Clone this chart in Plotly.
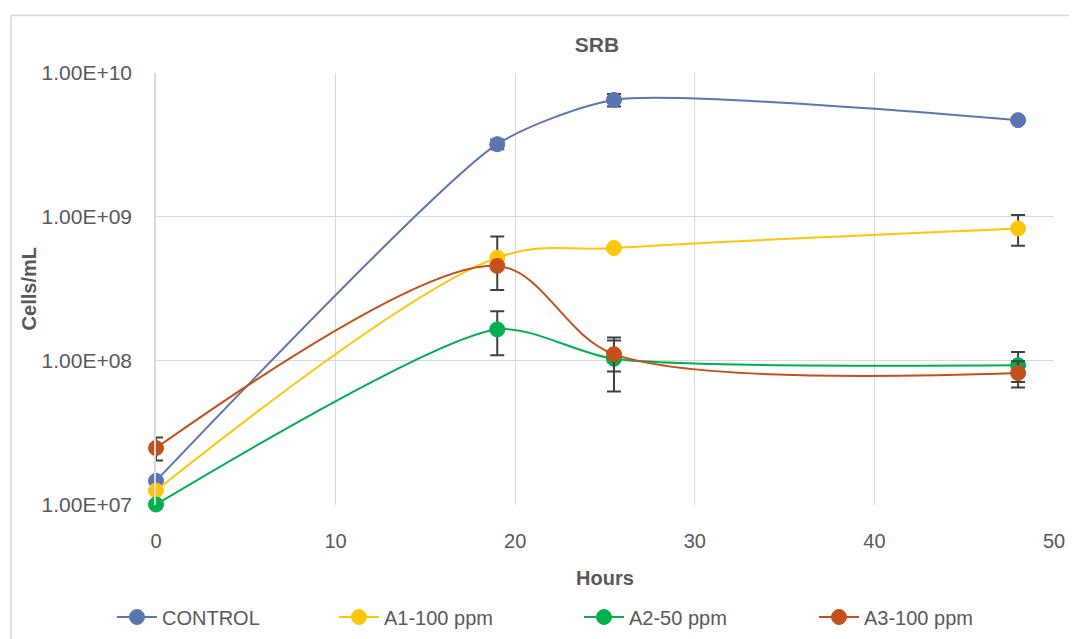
import plotly.graph_objects as go

hours = [0, 19, 25.5, 48]
series_names = ["CONTROL", "A1-100 ppm", "A2-50 ppm", "A3-100 ppm"]
control = [1.46e7, 3.2e9, 6.5e9, 4.7e9]
control_err = [0, 2.5e8, 6.5e8, 0]
a1 = [1.25e7, 5.2e8, 6.07e8, 8.3e8]
a1_err = [0, 2.1e8, 0, 2.0e8]
a2 = [1.0e7, 1.65e8, 1.03e8, 9.3e7]
a2_err = [0, 5.6e7, 4.2e7, 2.2e7]
a3 = [2.47e7, 4.56e8, 1.11e8, 8.2e7]
a3_err = [4.5e6, 0, 2.7e7, 1.7e7]
colors = ["#5B75B2", "#FFC50A", "#00B04F", "#C4501B"]
smooth = [0.6, 1.0, 0.7, 0.9]
y_tickvals = [1e7, 1e8, 1e9, 1e10]
y_ticktext = ["1.00E+07", "1.00E+08", "1.00E+09", "1.00E+10"]
x_tickvals = [0, 10, 20, 30, 40, 50]

FONT = "Liberation Sans"
TXT = "#595959"
W, H = 1069, 631          # page has an 8px body margin
L, R, T, B = 148, 17, 65, 130
PW, PH = W - L - R, H - T - B

legend_marker_px = [124, 346, 591, 826]
legend_names = ["legend", "legend2", "legend3", "legend4"]

fig = go.Figure()
for name, ys, errs, c, s, lg in zip(series_names, [control, a1, a2, a3],
                                    [control_err, a1_err, a2_err, a3_err], colors, smooth,
                                    legend_names):
    fig.add_trace(go.Scatter(
        x=hours, y=ys, name=name, mode="lines+markers", legend=lg, cliponaxis=False,
        line=dict(color=c, width=2, shape="spline", smoothing=s),
        marker=dict(color=c, size=15, line=dict(color=c, width=1)),
        error_y=dict(type="data", array=errs, visible=True, color="#404040",
                     thickness=2, width=7),
    ))

legend_layout = {}
for lg, px in zip(legend_names, legend_marker_px):
    legend_layout[lg] = dict(
        orientation="h", x=(px - 20) / W, xref="container", xanchor="left",
        y=1 - 609 / H, yref="container", yanchor="middle",
        font=dict(size=20, color=TXT, family=FONT), itemwidth=40,
        bgcolor="rgba(0,0,0,0)", borderwidth=0)

fig.update_layout(
    width=W, height=H,
    margin=dict(l=L, r=R, t=T, b=B),
    paper_bgcolor="white", plot_bgcolor="white",
    font=dict(family=FONT, color=TXT, size=20),
    title=dict(text="<b>SRB</b>", x=589 / W, xref="container", xanchor="center",
               y=1 - 37 / H, yref="container", yanchor="middle",
               font=dict(size=21, color=TXT, family=FONT)),
    showlegend=True,
    xaxis=dict(range=[0, 50], tickvals=x_tickvals, showgrid=True, gridcolor="#D9D9D9",
               gridwidth=1.3, zeroline=False, showline=False, ticks="",
               ticklabelstandoff=22,
               tickfont=dict(size=20, color=TXT),
               title=dict(text="<b>Hours</b>", font=dict(size=20, color=TXT), standoff=20)),
    yaxis=dict(type="log", range=[7, 10], tickvals=y_tickvals, ticktext=y_ticktext,
               showgrid=True, gridcolor="#D9D9D9", gridwidth=1.3, zeroline=False,
               showline=True, linecolor="#D9D9D9", linewidth=1.5, ticks="",
               ticklabelstandoff=18,
               tickfont=dict(size=21, color=TXT),
               title=dict(text="<b>Cells/mL</b>", font=dict(size=20, color=TXT), standoff=0)),
    **legend_layout,
)

# outer chart border
fig.add_shape(type="rect", xref="paper", yref="paper",
              x0=(2 - L) / PW, x1=(W + 30 - L) / PW,
              y0=(H - B - (H + 30)) / PH, y1=(H - B - 7) / PH,
              line=dict(color="#D9D9D9", width=1.5), fillcolor="rgba(0,0,0,0)", layer="below")

fig.write_html("out.html")
